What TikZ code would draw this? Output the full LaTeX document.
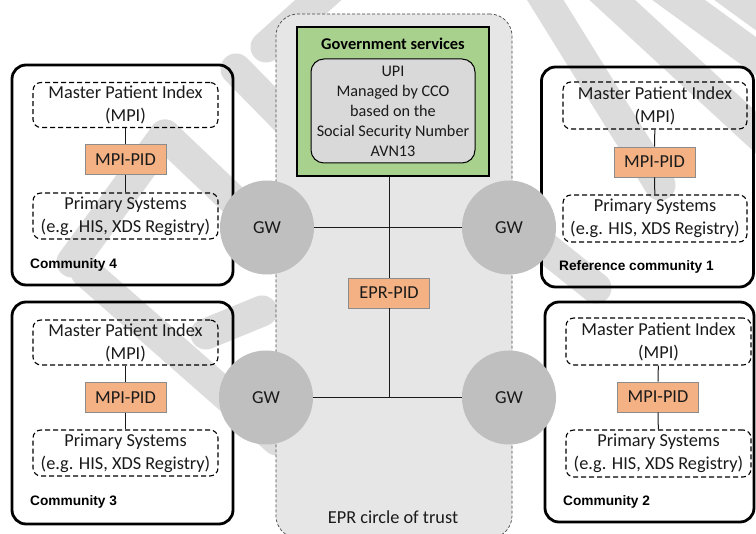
\documentclass[tikz,border=0pt]{standalone}
\usepackage{fontspec}
\setmainfont{Carlito}
\newfontfamily\labelfont{Liberation Sans}
\definecolor{pidfill}{HTML}{F4B183}
\definecolor{pidedge}{HTML}{8C8C8C}
\definecolor{govfill}{HTML}{A9D18E}
\definecolor{upifill}{HTML}{D9D9D9}
\definecolor{trustfill}{HTML}{E6E6E6}
\definecolor{gwfill}{HTML}{BFBFBF}
\definecolor{stripe}{HTML}{DCDCDC}
\definecolor{ink}{HTML}{1A1A1A}
\tikzset{
  bodyfont/.style={font=\fontsize{18.3}{23}\selectfont},
  community/.style={draw=black, line width=2.8pt, rounded corners=14pt},
  dashbox/.style={draw=black, line width=1.1pt, dash pattern=on 5pt off 3pt,
    rounded corners=8pt, minimum width=185pt, minimum height=45pt,
    align=center, inner sep=0pt, bodyfont, text=ink},
  pidbox/.style={draw=pidedge, line width=0.8pt, fill=pidfill,
    minimum width=81pt, minimum height=30pt, inner sep=0pt, bodyfont, text=ink},
  gateway/.style={circle, fill=gwfill, minimum size=94pt, inner sep=0pt,
    bodyfont, text=ink},
  commlabel/.style={anchor=west, inner sep=0pt,
    font=\labelfont\bfseries\fontsize{13.7}{16}\selectfont},
  link/.style={draw=ink, line width=1pt},
  watermark/.style={draw=stripe, line width=31pt, line cap=round}
}
\begin{document}
\begin{tikzpicture}[x=1pt,y=-1pt]
\useasboundingbox (0,0) rectangle (756,534);
\fill[white] (0,0) rectangle (756,534);

% light diagonal watermark strokes
\draw[watermark] (266,47) -- (335,-15);
\draw[watermark] (236,69) -- (340,175);
\draw[watermark] (165,135) -- (270,235);
\draw[watermark] (72,262) -- (165,135);
\draw[watermark] (86,272) -- (277,440);
\draw[watermark] (206,334) -- (262,311);
\draw[watermark] (536,-15) -- (660,185);
\draw[watermark] (480,195) -- (596,288);
\draw[watermark] (596,-15) -- (775,150);
\draw[watermark] (658,-15) -- (775,70);
\draw[watermark] (720,-15) -- (775,25);

% EPR circle of trust
\node[draw=ink!80, fill=trustfill, line width=0.7pt, dash pattern=on 3pt off 2pt,
  rounded corners=22pt, minimum width=236pt, minimum height=524pt, inner sep=0pt]
  (trust) at (394,276) {};
\node[bodyfont, text=ink] (trustlabel) at (393,517) {EPR circle of trust};

% government services
\node[draw=black, fill=govfill, line width=1.3pt, minimum width=192pt,
  minimum height=149pt, inner sep=0pt] (gov) at (393,101.5) {};
\node[font=\bfseries\fontsize{16.4}{19}\selectfont, text=black] (govtitle) at (393,44)
  {Government services};
\node[draw=black, fill=upifill, line width=1pt, rounded corners=13pt,
  minimum width=164pt, minimum height=104pt, inner sep=0pt, align=center,
  font=\fontsize{16.2}{20}\selectfont, text=ink] (upi) at (393,111)
  {UPI\\Managed by CCO\\based on the\\Social Security Number\\AVN13};

% communities
\node[community, minimum width=221pt, minimum height=220pt] (c4) at (122.5,175) {};
\node[community, minimum width=221pt, minimum height=222pt] (c3) at (122.5,413) {};
\node[community, minimum width=212pt, minimum height=220pt] (c1) at (647.5,177) {};
\node[community, minimum width=209pt, minimum height=220pt] (c2) at (649.5,412) {};

\node[commlabel] (l4) at (30,265) {Community 4};
\node[commlabel] (l3) at (30,502) {Community 3};
\node[commlabel] (l1) at (559,267) {Reference community 1};
\node[commlabel] (l2) at (563,502) {Community 2};

% community 4
\node[dashbox] (mpi4) at (125.5,105) {Master Patient Index\\(MPI)};
\node[pidbox] (pid4) at (125.5,159.5) {MPI-PID};
\node[dashbox, minimum height=46pt] (sys4) at (125.5,216) {Primary Systems\\(e.g. HIS, XDS Registry)};
% community 3
\node[dashbox] (mpi3) at (125.5,342.5) {Master Patient Index\\(MPI)};
\node[pidbox] (pid3) at (125.5,397.5) {MPI-PID};
\node[dashbox, minimum height=46pt] (sys3) at (125.5,453) {Primary Systems\\(e.g. HIS, XDS Registry)};
% reference community 1
\node[dashbox, minimum width=184pt, minimum height=47pt] (mpi1) at (655,105.5) {Master Patient Index\\(MPI)};
\node[pidbox] (pid1) at (654.5,162) {MPI-PID};
\node[dashbox, minimum width=184pt, minimum height=47pt] (sys1) at (655,218.5) {Primary Systems\\(e.g. HIS, XDS Registry)};
% community 2
\node[dashbox, minimum height=47pt] (mpi2) at (658.5,341.5) {Master Patient Index\\(MPI)};
\node[pidbox] (pid2) at (658,397) {MPI-PID};
\node[dashbox, minimum height=47pt] (sys2) at (658.5,453.5) {Primary Systems\\(e.g. HIS, XDS Registry)};

\draw[link] (mpi4) -- (pid4) -- (sys4);
\draw[link] (mpi3) -- (pid3) -- (sys3);
\draw[link] (mpi1) -- (pid1) -- (sys1);
\draw[link] (mpi2) -- (pid2) -- (sys2);

% central identifier and backbone
\node[pidbox] (epr) at (389,293) {EPR-PID};
\coordinate (junc) at (389,397.5);
\draw[link] (epr |- gov.south) -- (epr) -- (junc);

% gateways
\node[gateway] (gw4) at (267,227.5) {GW};
\node[gateway] (gw1) at (509,227.5) {GW};
\node[gateway] (gw3) at (266,397.5) {GW};
\node[gateway] (gw2) at (509,397.5) {GW};
\draw[link] (gw4) -- (gw1);
\draw[link] (gw3) -- (gw2);
\end{tikzpicture}
\end{document}
